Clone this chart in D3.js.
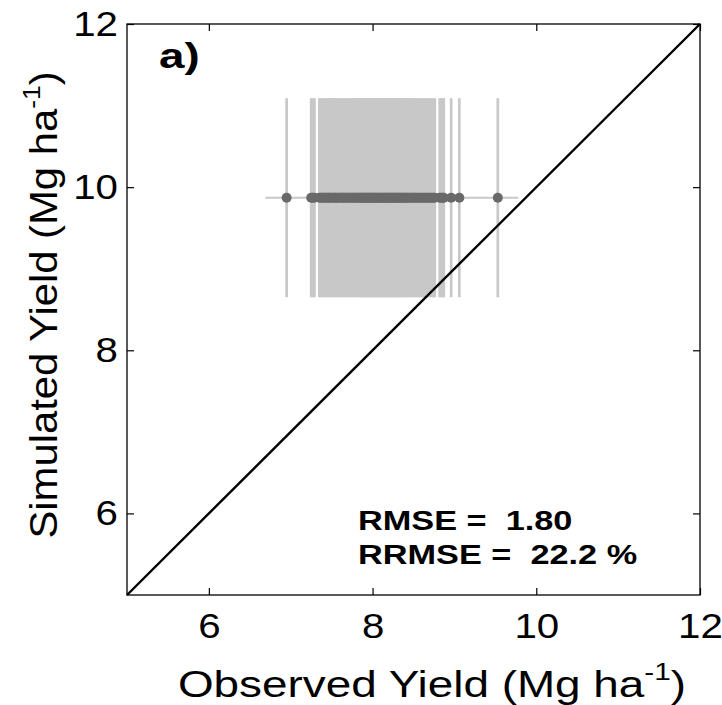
<!DOCTYPE html>
<html>
<head>
<meta charset="utf-8">
<script src="https://cdn.jsdelivr.net/npm/d3@7/dist/d3.min.js"></script>
<style>
  html, body { margin: 0; padding: 0; background: #ffffff; }
  svg { display: block; }
  text { font-family: "Liberation Sans", Arial, sans-serif; fill: #000; }
</style>
</head>
<body>
<svg id="chart" width="722" height="705"></svg>
<script>
// Observed yields of each plot (Mg ha-1)
const observed = [
  6.95,
  7.25, 7.27, 7.29,
  7.35, 7.37, 7.39, 7.41, 7.43, 7.45, 7.46, 7.48, 7.50, 7.52, 7.54, 7.55,
  7.57, 7.59, 7.61, 7.63, 7.64, 7.66, 7.68, 7.70, 7.72, 7.73, 7.75, 7.77,
  7.79, 7.80, 7.82, 7.84, 7.85, 7.87, 7.88, 7.90, 7.91, 7.93, 7.94, 7.96,
  7.97, 7.99, 8.00, 8.02, 8.03, 8.05, 8.06, 8.08, 8.09, 8.11, 8.12, 8.14,
  8.15, 8.17, 8.18, 8.20, 8.21, 8.23, 8.24, 8.26, 8.27, 8.29, 8.30, 8.32,
  8.33, 8.35, 8.37, 8.38, 8.40, 8.42, 8.43, 8.45, 8.47, 8.49, 8.51, 8.52,
  8.54, 8.56, 8.58, 8.60, 8.62, 8.64, 8.66, 8.68, 8.70, 8.72, 8.74, 8.76,
  8.82, 8.84, 8.86, 8.87,
  8.96, 9.06,
  9.53
];
// Simulated yield (same for every plot) and its spread
const simulatedYield = 9.87;
const simulatedSd = 1.22;
// Spread of the observed yields
const observedRange = [6.69, 9.78];

const axisDomain = [5, 12];
const tickValues = [6, 8, 10, 12];
const stats = { rmse: "1.80", rrmse: "22.2" };
const panelLabel = "a)";

const svg = d3.select("#chart");
const plotLeft = 127, plotRight = 700, plotTop = 24, plotBottom = 595;
// horizontal glyph stretch of the figure font
const widenTick = 1.15, widenText = 1.27;

const x = d3.scaleLinear().domain(axisDomain).range([plotLeft, plotRight]);
const y = d3.scaleLinear().domain(axisDomain).range([plotBottom, plotTop]);

const barColor = "#c8c8c8";
const dotColor = "#696969";

// vertical error bars of the simulated yield
svg.append("g")
  .selectAll("line")
  .data(observed)
  .join("line")
  .attr("x1", d => x(d)).attr("x2", d => x(d))
  .attr("y1", y(simulatedYield - simulatedSd))
  .attr("y2", y(simulatedYield + simulatedSd))
  .attr("stroke", barColor)
  .attr("stroke-width", 2.7);

// horizontal spread of the observed yield
svg.append("line")
  .attr("x1", x(observedRange[0])).attr("x2", x(observedRange[1]))
  .attr("y1", y(simulatedYield)).attr("y2", y(simulatedYield))
  .attr("stroke", barColor)
  .attr("stroke-width", 2.2);

// points
svg.append("g")
  .selectAll("circle")
  .data(observed)
  .join("circle")
  .attr("cx", d => x(d))
  .attr("cy", y(simulatedYield))
  .attr("r", 5)
  .attr("fill", dotColor);

// 1:1 line
svg.append("line")
  .attr("x1", x(axisDomain[0])).attr("y1", y(axisDomain[0]))
  .attr("x2", x(axisDomain[1])).attr("y2", y(axisDomain[1]))
  .attr("stroke", "#000")
  .attr("stroke-width", 2.4);

// axes with inward ticks on all four sides
const tickLen = 7;
function styleAxis(g) {
  g.select(".domain").remove();
  g.selectAll(".tick line").attr("stroke", "#000").attr("stroke-width", 1.2);
  g.selectAll(".tick text")
    .style("font-family", "'Liberation Sans', Arial, sans-serif")
    .style("font-size", "35px")
    .attr("fill", "#000")
    .each(function () {
      const t = d3.select(this);
      const tx = +t.attr("x") || 0;
      t.attr("x", 0).attr("transform", `translate(${tx},0) scale(${widenTick},1)`);
    });
}
svg.append("g")
  .attr("transform", `translate(0,${plotBottom})`)
  .call(d3.axisBottom(x).tickValues(tickValues).tickSizeInner(-tickLen).tickSizeOuter(0).tickPadding(18).tickFormat(d3.format("d")))
  .call(styleAxis);
svg.append("g")
  .attr("transform", `translate(0,${plotTop})`)
  .call(d3.axisTop(x).tickValues(tickValues).tickSizeInner(-tickLen).tickSizeOuter(0).tickFormat(""))
  .call(styleAxis);
svg.append("g")
  .attr("transform", `translate(${plotLeft},0)`)
  .call(d3.axisLeft(y).tickValues(tickValues).tickSizeInner(-tickLen).tickSizeOuter(0).tickPadding(9).tickFormat(d3.format("d")))
  .call(styleAxis);
svg.append("g")
  .attr("transform", `translate(${plotRight},0)`)
  .call(d3.axisRight(y).tickValues(tickValues).tickSizeInner(-tickLen).tickSizeOuter(0).tickFormat(""))
  .call(styleAxis);

// frame
svg.append("rect")
  .attr("x", plotLeft).attr("y", plotTop)
  .attr("width", plotRight - plotLeft).attr("height", plotBottom - plotTop)
  .attr("fill", "none")
  .attr("stroke", "#000")
  .attr("stroke-width", 1.3);

// axis titles
function unitTitle(sel, label) {
  sel.append("tspan").text(label + " (Mg ha");
  sel.append("tspan").attr("dy", -17).style("font-size", "24px").text("-1");
  sel.append("tspan").attr("dy", 17).text(")");
}
svg.append("text")
  .attr("transform", `translate(432,697) scale(1.24,1)`)
  .attr("text-anchor", "middle")
  .style("font-size", "37px")
  .call(unitTitle, "Observed Yield");
svg.append("text")
  .attr("transform", `translate(57,305) rotate(-90) scale(1.1,1)`)
  .attr("text-anchor", "middle")
  .style("font-size", "38px")
  .call(unitTitle, "Simulated Yield");

// panel label
svg.append("text")
  .attr("transform", `translate(159,68) scale(${widenText},1)`)
  .style("font-size", "36px").style("font-weight", "bold")
  .text(panelLabel);

// statistics
svg.append("text")
  .attr("transform", `translate(358,530) scale(${widenText},1)`)
  .style("font-size", "27px").style("font-weight", "bold")
  .attr("xml:space", "preserve")
  .text(`RMSE =  ${stats.rmse}`);
svg.append("text")
  .attr("transform", `translate(358,564) scale(${widenText},1)`)
  .style("font-size", "27px").style("font-weight", "bold")
  .attr("xml:space", "preserve")
  .text(`RRMSE =  ${stats.rrmse} %`);
</script>
</body>
</html>
